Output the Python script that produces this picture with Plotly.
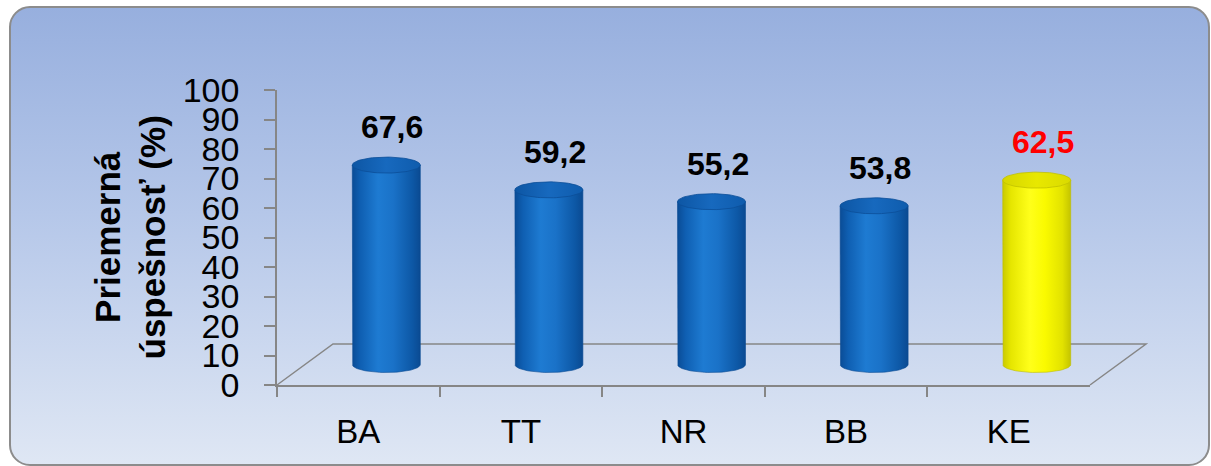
import base64
import numpy as np
import plotly.graph_objects as go

# ---------------- data ----------------
categories = ["BA", "TT", "NR", "BB", "KE"]
values = [67.6, 59.2, 55.2, 53.8, 62.5]
highlight = [False, False, False, False, True]
y_ticks = list(range(0, 101, 10))
y_title_lines = ["Priemerná", "úspešnosť (%)"]

# ---------------- geometry / style ----------------
W, H = 1211, 466
PX_L, PX_R = 277, 1090      # front plane x extent (pixels)
PX_T, PX_B = 90, 385        # value axis 100 .. 0 (pixels)
DX, DY = 56, 41             # full 3D depth offset (pixels)
CYL_HALF_W_PX = 34
CYL_ELL_PX = 8
FONT = "Liberation Sans, Arial, sans-serif"
AXIS_GRAY = "#868686"

n = len(categories)
cat_px = (PX_R - PX_L) / n
val_px = (PX_B - PX_T) / 100.0


def px(x, y):
    return x / W, 1 - y / H


# background (rounded gradient panel)
svg = f"""<svg xmlns='http://www.w3.org/2000/svg' width='{W}' height='{H}' viewBox='0 0 {W} {H}'>
<defs><linearGradient id='g' x1='0' y1='0' x2='0' y2='1'>
<stop offset='0' stop-color='#97AFDE'/>
<stop offset='0.45' stop-color='#B5C7E9'/>
<stop offset='1' stop-color='#DFE7F4'/>
</linearGradient></defs>
<rect x='10' y='7' width='1199' height='458' rx='20' ry='20' fill='url(#g)' stroke='#8C8C8C' stroke-width='2'/>
</svg>"""
bg_uri = "data:image/svg+xml;base64," + base64.b64encode(svg.encode()).decode()

fig = go.Figure()

# hidden axes for cylinders at mid depth (full-figure domain, pixel-consistent scale)
cx0 = PX_L + cat_px * 0.5 + DX / 2          # pixel of index 0
x2_lo = -cx0 / cat_px
x2_hi = x2_lo + W / cat_px
base_px = PX_B - DY / 2                      # pixel of value 0
y2_lo = -(H - base_px) / val_px
y2_hi = y2_lo + H / val_px

hw = CYL_HALF_W_PX / cat_px
eh = CYL_ELL_PX / val_px

blue_body = [[0, "#0A4C96"], [0.12, "#0F5FB2"], [0.38, "#1E7BD2"], [0.6, "#1A72C8"],
             [0.88, "#0D58A6"], [1, "#0A4A92"]]
blue_cap = [[0, "#0D56A4"], [0.5, "#1769BE"], [1, "#0F5CAD"]]
yel_body = [[0, "#C9C900"], [0.12, "#E6E600"], [0.4, "#FFFF1A"], [0.62, "#FAFA00"],
            [0.88, "#E2E200"], [1, "#C4C400"]]
yel_cap = [[0, "#D6D600"], [0.5, "#E8E800"], [1, "#DADA00"]]

t_bot = np.linspace(np.pi, 2 * np.pi, 40)
t_full = np.linspace(0, 2 * np.pi, 80)

for i, (cat, v, hl) in enumerate(zip(categories, values, highlight)):
    bx = [i - hw, i - hw] + list(i + hw * np.cos(t_bot)) + [i + hw, i - hw]
    by = [v, 0] + list(eh * np.sin(t_bot)) + [v, v]
    fig.add_trace(go.Scatter(
        x=bx, y=by, xaxis="x2", yaxis="y2", mode="lines", fill="toself",
        fillgradient=dict(type="horizontal", colorscale=yel_body if hl else blue_body),
        line=dict(width=0.6, color="#BDBD00" if hl else "#0A4A92"),
        hoverinfo="skip", showlegend=False))
    fig.add_trace(go.Scatter(
        x=list(i + hw * np.cos(t_full)), y=list(v + eh * np.sin(t_full)),
        xaxis="x2", yaxis="y2", mode="lines", fill="toself",
        fillgradient=dict(type="horizontal", colorscale=yel_cap if hl else blue_cap),
        line=dict(width=0.8, color="#C2C200" if hl else "#0B4E98"),
        hoverinfo="skip", showlegend=False))
    fig.add_annotation(
        x=i, y=v, xref="x2", yref="y2", yshift=38, xshift=6, showarrow=False,
        xanchor="center", yanchor="middle",
        text=f"<b>{v:.1f}</b>".replace(".", ","),
        font=dict(family=FONT, size=32, color="#FF0000" if hl else "#000000"))

# invisible trace to give the category axis its categories
fig.add_trace(go.Scatter(x=categories, y=[None] * n, mode="markers",
                         hoverinfo="skip", showlegend=False))

# floor (3D base) outline
x0, y0 = px(PX_L, PX_B)
x1, y1 = px(PX_L + DX, PX_B - DY)
x2p, y2p = px(PX_R + DX, PX_B - DY)
x3, y3 = px(PX_R, PX_B)
fig.add_shape(type="path", xref="paper", yref="paper", layer="below",
              path=f"M {x0},{y0} L {x1},{y1} L {x2p},{y2p} L {x3},{y3}",
              line=dict(color=AXIS_GRAY, width=1.5))

# y-axis title
tx, ty = px(130, (PX_T + PX_B) / 2)
fig.add_annotation(x=tx, y=ty, xref="paper", yref="paper", showarrow=False,
                   xanchor="center", yanchor="middle",
                   textangle=-90, text="<b>" + "<br>".join(y_title_lines) + "</b>",
                   font=dict(family=FONT, size=35, color="#000000"))

fig.update_layout(
    width=W, height=H,
    margin=dict(l=0, r=0, t=0, b=0, pad=0, autoexpand=False),
    paper_bgcolor="white", plot_bgcolor="rgba(0,0,0,0)",
    separators=", ",
    showlegend=False,
    images=[dict(source=bg_uri, xref="paper", yref="paper", x=0, y=1,
                 sizex=1, sizey=1, xanchor="left", yanchor="top",
                 sizing="stretch", layer="below")],
    xaxis=dict(domain=[PX_L / W, PX_R / W], anchor="y", type="category",
               categoryorder="array", categoryarray=categories,
               range=[-0.5, n - 0.5], tickson="boundaries", automargin=False,
               ticks="outside", ticklen=10, tickcolor=AXIS_GRAY, tickwidth=1.5,
               showline=True, linecolor=AXIS_GRAY, linewidth=1.5,
               showgrid=False, zeroline=False, ticklabelstandoff=17,
               tickfont=dict(family=FONT, size=33, color="#000000")),
    yaxis=dict(domain=[1 - PX_B / H, 1 - PX_T / H], anchor="x",
               range=[0, 100], tickvals=y_ticks, automargin=False,
               ticks="outside", ticklen=11, tickcolor=AXIS_GRAY, tickwidth=1.5,
               showline=True, linecolor=AXIS_GRAY, linewidth=1.5,
               showgrid=False, zeroline=False, ticklabelstandoff=18,
               tickfont=dict(family=FONT, size=34, color="#000000")),
    xaxis2=dict(domain=[0, 1], anchor="y2", range=[x2_lo, x2_hi], visible=False,
                automargin=False),
    yaxis2=dict(domain=[0, 1], anchor="x2", range=[y2_lo, y2_hi], visible=False,
                automargin=False),
)

fig.write_html("out.html", config={"displayModeBar": False},
               post_script="document.body.style.margin='0';document.body.style.overflow='hidden';")
